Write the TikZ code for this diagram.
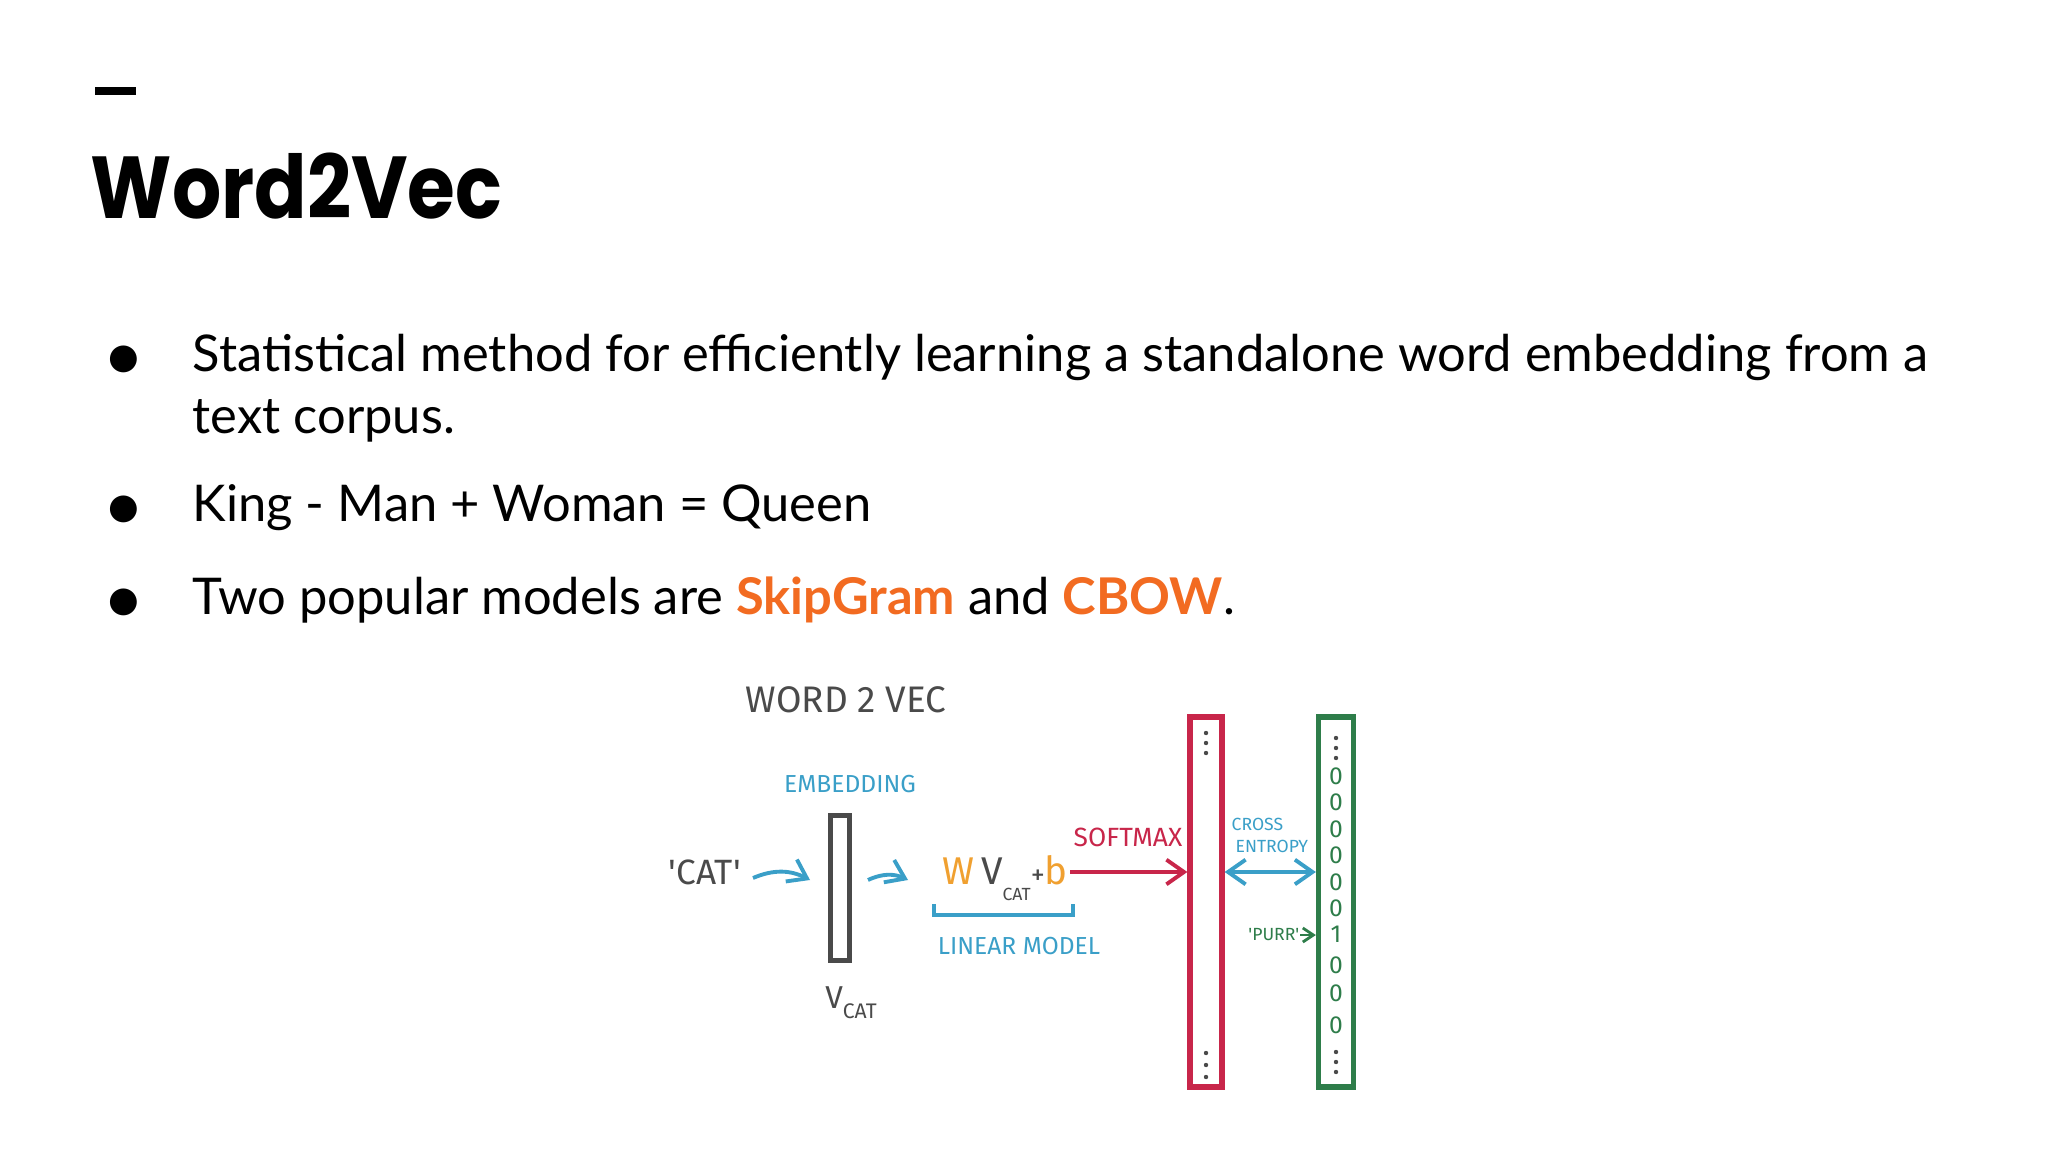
\documentclass[tikz,border=0pt]{standalone}
\usepackage{fontspec}
\setmainfont{Lato}
\newfontfamily\titlefont{Poppins}
\newfontfamily\handfont{Fira Sans}
\newfontfamily\symfont{DejaVu Sans}
\definecolor{hblue}{HTML}{3A9FC8}
\definecolor{hred}{HTML}{C8264A}
\definecolor{hgreen}{HTML}{2E7D4A}
\definecolor{horange}{HTML}{F0A030}
\definecolor{hgray}{HTML}{4A4A4A}
\definecolor{slorange}{HTML}{F26B21}
\usetikzlibrary{arrows.meta}
\begin{document}
\begin{tikzpicture}[x=0.01cm,y=-0.01cm,
  bul/.style={anchor=base west,inner sep=0,font=\fontsize{14.4}{17}\selectfont},
  dot/.style={anchor=base,inner sep=0,font=\symfont\fontsize{10}{12}\selectfont},
  hand/.style={inner sep=0,font=\handfont\fontsize{#1}{#1}\selectfont},
  harrow/.style={-{Straight Barb[length=5pt,width=7pt]},line width=1.1pt},
  digit/.style={hand=7,text=hgreen}]
\useasboundingbox (0,0) rectangle (2048,1152);
\fill[white] (0,0) rectangle (2048,1152);
% title
\draw[line width=2.2pt] (95,91) -- (136,91);
\node[anchor=base west,inner sep=0,font=\titlefont\bfseries\fontsize{25}{30}\selectfont] (title) at (90,219) {\scalebox{0.88}[1]{Word2Vec}};
% bullets
\node[dot] (b1) at (124,369) {●};
\node[bul] (t1) at (192,372) {Statistical method for efficiently learning a standalone word embedding from a};
\node[bul] (t1b) at (192,434) {text corpus.};
\node[dot] (b2) at (124,519) {●};
\node[bul] (t2) at (192,522) {King - Man + Woman = Queen};
\node[dot] (b3) at (124,611) {●};
\node[bul] (t3) at (192,614) {Two popular models are \textcolor{slorange}{\bfseries SkipGram} and \textcolor{slorange}{\bfseries CBOW}.};
% diagram
\node[hand=10.5,text=hgray] (w2v) at (846,700) {WORD 2 VEC};
\node[hand=7,text=hblue] (emb) at (850,784) {EMBEDDING};
\node[draw=hgray,line width=1.2pt,minimum width=19*0.01cm,minimum height=145*0.01cm,inner sep=0] (evec) at (840,888) {};
\node[hand=10,text=hgray] (cat) at (705,872) {'CAT'};
\node[hand=9,text=hgray] (vcat) at (851,1003) {V\raisebox{-0.6ex}{\fontsize{6}{6}\selectfont CAT}};
\coordinate (a1s) at (753,878); \coordinate (a1e) at (810,880);
\draw[harrow,hblue] (a1s) to[bend left=25] (a1e);
\coordinate (a2s) at (868,880); \coordinate (a2e) at (908,880);
\draw[harrow,hblue] (a2s) to[bend left=25] (a2e);
\node[hand=11,text=horange,anchor=base west] (wv) at (942,884) {W\,\textcolor{hgray}{V\raisebox{-0.8ex}{\fontsize{5}{5}\selectfont CAT}}\textcolor{hgray}{\fontsize{8}{8}\selectfont+}b};
\coordinate (br1) at (934,904); \coordinate (br2) at (1073,904);
\draw[hblue,line width=1.2pt] (br1) -- ++(0,11) -| (br2);
\node[hand=7,text=hblue] (lin) at (1019,946) {LINEAR MODEL};
\node[hand=7.5,text=hred] (soft) at (1128,837) {SOFTMAX};
\node[draw=hred,line width=1.5pt,minimum width=32*0.01cm,minimum height=370*0.01cm,inner sep=0] (red) at (1206,902) {};
\coordinate (sa) at (1070,872);
\draw[harrow,hred] (sa) -- (red.west|-sa);
\node[draw=hgreen,line width=1.5pt,minimum width=35*0.01cm,minimum height=370*0.01cm,inner sep=0] (green) at (1336,902) {};
\node[hand=5,text=hblue,anchor=west] (cross) at (1231,824) {CROSS};
\node[hand=5,text=hblue,anchor=west] (entr) at (1235,846) {ENTROPY};
\coordinate (ce) at (1270,872);
\draw[{Straight Barb[length=5pt,width=7pt]}-{Straight Barb[length=5pt,width=7pt]},line width=1.1pt,hblue] (red.east|-ce) -- (green.west|-ce);
\node[hand=5,text=hgreen,anchor=east] (purr) at (1300,935) {'PURR'};
\draw[-{Straight Barb[length=3pt,width=4pt]},hgreen,line width=0.8pt] (purr.east) -- (green.west|-purr);
% dots
\foreach \y in {733,743,753,1053,1065,1077} \fill[hgray] (1206,\y) circle (2.2);
\foreach \y in {738,748,758,1052,1062,1072} \fill[hgray] (1336,\y) circle (2.2);
\foreach \y/\d in {776/0,802/0,829/0,855/0,882/0,908/0,934/1,965/0,993/0,1025/0}
  \node[digit] at (1336,\y) {\d};
\end{tikzpicture}
\end{document}
